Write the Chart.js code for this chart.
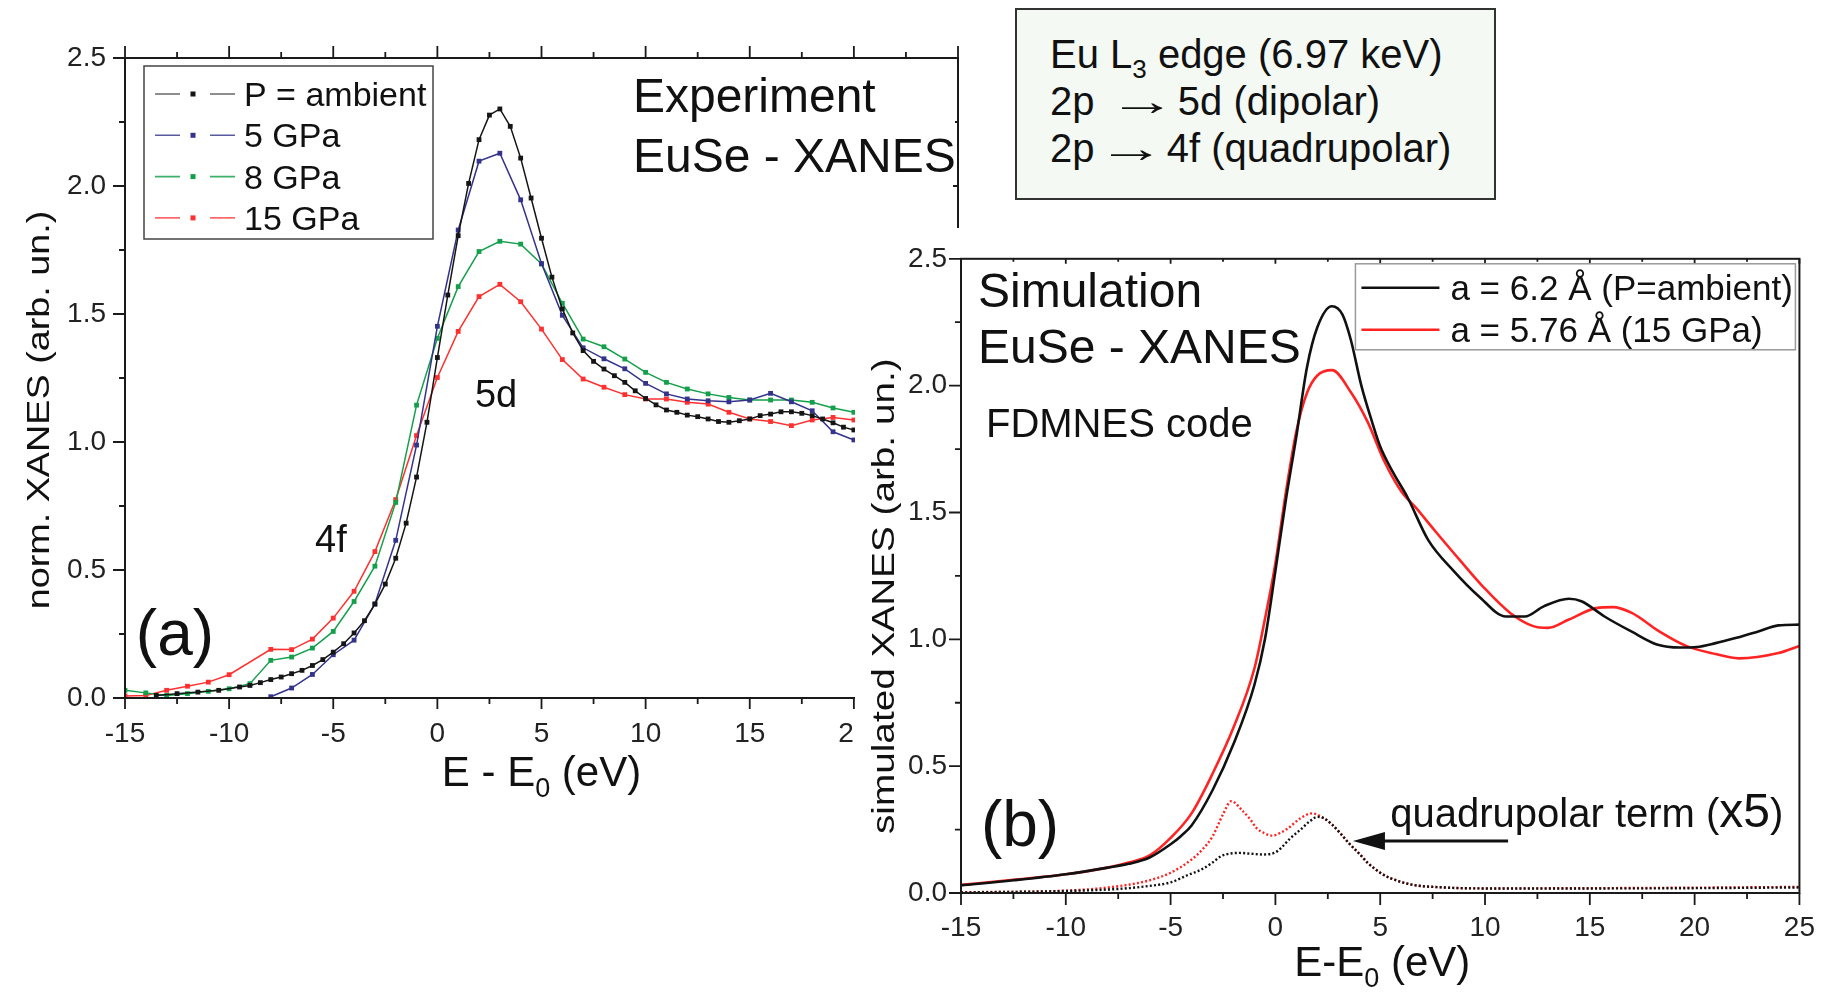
<!DOCTYPE html>
<html>
<head>
<meta charset="utf-8">
<title>EuSe XANES</title>
<script src="https://cdn.jsdelivr.net/npm/chart.js@4.4.1/dist/chart.umd.min.js"></script>
<style>
  html, body { margin: 0; padding: 0; background: #fff; }
  #stage { position: relative; width: 1833px; height: 993px; overflow: hidden;
           font-family: 'Liberation Sans', Arial, Helvetica, sans-serif; }
  #wrapA { position: absolute; left: 0; top: 0; width: 1000px; height: 800px; }
  #wrapB { position: absolute; left: 855px; top: 228px; width: 978px; height: 765px; }
  #info { position: absolute; left: 1015px; top: 8px; width: 481px; height: 192px;
          box-sizing: border-box; border: 2px solid #333; background: #f4f9f4;
          padding: 21px 0 0 33px; font-size: 40px; line-height: 47px; color: #111;
          white-space: pre; }
  #info sub { font-size: 26px; vertical-align: -10px; line-height: 0; }
  #info .arr { display: inline-block; width: 50px; text-align: center; transform: scaleX(1.7); }
</style>
</head>
<body>
<div id="stage">
  <div id="wrapA"><canvas id="chartA"></canvas></div>
  <div id="wrapB"><canvas id="chartB"></canvas></div>
  <div id="info">Eu L<sub>3</sub> edge (6.97 keV)
2p  <span class="arr">→</span> 5d (dipolar)
2p <span class="arr">→</span> 4f (quadrupolar)</div>
</div>
<script>
const FONT = "'Liberation Sans', Arial, Helvetica, sans-serif";

// ---- (a) measured spectra: energy (eV) and normalised absorption ----
const expAmbE = [-13.5,-12.5,-11.5,-10.5,-9.5,-9,-8.5,-8,-7.5,-7,-6.5,-6,-5.5,-5,-4.5,-4,-3.5,-3,-2.5,-2,-1.5,-1,-0.5,0,0.5,1,1.5,2,2.5,3,3.5,4,4.5,5,5.5,6,6.5,7,7.5,8,8.5,9,9.5,10,10.5,11,11.5,12,12.5,13,13.5,14,14.5,15,15.5,16,16.5,17,17.5,18,18.5,19,19.5,20];
const expAmb  = [0.010,0.017,0.023,0.030,0.043,0.049,0.060,0.072,0.082,0.095,0.108,0.127,0.150,0.179,0.212,0.254,0.302,0.367,0.445,0.546,0.683,0.863,1.077,1.330,1.574,1.806,2.010,2.181,2.277,2.301,2.233,2.109,1.953,1.796,1.644,1.520,1.426,1.357,1.315,1.285,1.259,1.233,1.200,1.170,1.145,1.125,1.116,1.105,1.099,1.090,1.080,1.077,1.083,1.090,1.103,1.109,1.118,1.118,1.112,1.103,1.090,1.075,1.058,1.047];

const exp5E = [-8,-7,-6,-5,-4,-3,-2,-1,0,1,2,3,4,5,6,7,8,9,10,11,12,13,14,15,16,17,18,19,20];
const exp5  = [0.005,0.039,0.092,0.169,0.226,0.367,0.616,0.988,1.452,1.828,2.097,2.128,1.946,1.697,1.495,1.368,1.325,1.286,1.229,1.188,1.168,1.161,1.157,1.164,1.190,1.157,1.122,1.040,1.008];

const exp8E = [-15,-14,-13,-12,-11,-10,-9,-8,-7,-6,-5,-4,-3,-2,-1,0,1,2,3,4,5,6,7,8,9,10,11,12,13,14,15,16,17,18,19,20];
const exp8  = [0.030,0.020,0.010,0.017,0.026,0.036,0.056,0.147,0.160,0.195,0.260,0.377,0.515,0.764,1.144,1.405,1.607,1.744,1.784,1.773,1.695,1.542,1.402,1.372,1.324,1.272,1.233,1.207,1.188,1.174,1.164,1.164,1.164,1.155,1.133,1.116];

const exp15E = [-15,-14,-13,-12,-11,-10,-8,-7,-6,-5,-4,-3,-2,-1,0,1,2,3,4,5,6,7,8,9,10,11,12,13,14,15,16,17,18,19,20];
const exp15  = [0.008,0.010,0.030,0.046,0.062,0.091,0.190,0.189,0.230,0.312,0.417,0.572,0.775,1.025,1.252,1.432,1.568,1.616,1.548,1.441,1.322,1.246,1.214,1.185,1.168,1.168,1.155,1.148,1.116,1.090,1.080,1.064,1.086,1.096,1.086];

const expLabels = ['P = ambient', '5 GPa', '8 GPa', '15 GPa'];
const expColors = ['#151515', '#33338c', '#14a04b', '#ff3030'];
const expLegendLine = ['#6a6a6a', '#5a5aa0', '#3db06a', '#ff6a6a'];

// ---- (b) FDMNES simulations ----
const simAmbE = [-15,-12.5,-10,-8,-7,-6,-5,-4.5,-4,-3,-2,-1,-0.5,0,0.5,1,1.5,2,2.7,3.2,3.6,4.1,4.6,5.0,5.6,6.3,7.3,8.5,9.7,11,11.9,12.8,14,14.6,15.7,17,18.2,19.3,20.1,21,22,23,24,25];
const simAmb  = [0.030,0.050,0.074,0.100,0.115,0.140,0.192,0.225,0.266,0.405,0.587,0.821,1.00,1.27,1.55,1.80,2.07,2.23,2.313,2.28,2.18,2.00,1.86,1.76,1.66,1.56,1.39,1.27,1.17,1.09,1.09,1.13,1.16,1.15,1.09,1.03,0.98,0.968,0.970,0.985,1.006,1.03,1.055,1.058];

const sim15E = [-15,-12.5,-10,-8,-7,-6,-5,-4,-3,-2,-1,-0.5,0,0.5,1,1.5,2,2.7,3.6,4.4,5.2,6.0,6.7,7.6,8.8,9.9,11.2,12.3,13,14,15.3,16.1,17,18.3,19.6,21,22.1,24,25];
const sim15  = [0.032,0.052,0.074,0.100,0.120,0.148,0.217,0.314,0.470,0.652,0.886,1.08,1.30,1.58,1.82,1.97,2.04,2.061,1.974,1.857,1.701,1.584,1.519,1.429,1.312,1.208,1.104,1.052,1.045,1.078,1.123,1.127,1.104,1.032,0.974,0.942,0.925,0.946,0.974];

// quadrupolar contribution, scaled x5
const quadAmbE = [-15,-10,-7.5,-6,-5,-4.2,-3.5,-3,-2.6,-2.2,-1.7,-1.2,-0.6,0,0.3,0.7,1.2,1.6,2.0,2.3,2.7,3.1,3.5,4.0,4.4,5.0,5.5,6.5,8,10,15,20,25];
const quadAmb  = [0.002,0.008,0.016,0.028,0.042,0.07,0.094,0.12,0.145,0.155,0.158,0.155,0.152,0.16,0.18,0.215,0.25,0.28,0.30,0.295,0.27,0.235,0.197,0.155,0.119,0.08,0.058,0.033,0.022,0.018,0.018,0.019,0.022];

const quad15E = [-15,-10,-7.3,-6,-5,-4,-3.5,-3,-2.5,-2.1,-1.6,-1.2,-0.9,-0.5,-0.15,0.3,0.6,1.2,1.75,2.3,2.7,3.1,3.5,4.0,4.4,5.0,5.5,6.5,8,10,15,20,25];
const quad15  = [0.003,0.009,0.029,0.05,0.08,0.132,0.17,0.223,0.31,0.362,0.327,0.29,0.256,0.235,0.226,0.24,0.255,0.295,0.314,0.295,0.27,0.235,0.197,0.155,0.119,0.08,0.058,0.033,0.022,0.018,0.019,0.021,0.024];

const simLabels = ['a = 6.2 Å (P=ambient)', 'a = 5.76 Å (15 GPa)'];
const simColors = ['#111111', '#ff2424'];

// axis ranges shared by both panels
const X_MIN = -15, X_MAX = 25, X_STEP = 5, X_MINOR = 2.5;
const Y_MIN = 0, Y_MAX = 2.5, Y_STEP = 0.5, Y_MINOR = 0.25;

Chart.defaults.font.family = FONT;
Chart.defaults.color = '#1a1a1a';

function pts(xs, ys) { return xs.map((x, i) => ({ x: x, y: ys[i] })); }

function isMajor(v, step) { return Math.abs(v / step - Math.round(v / step)) < 1e-6; }

// frame with tick marks; signed lengths: positive = outward
function drawFrame(chart, t) {
  const { ctx, chartArea: a, scales } = chart;
  const sx = scales.x, sy = scales.y;
  ctx.save();
  ctx.strokeStyle = '#1a1a1a';
  ctx.lineWidth = 2;
  ctx.strokeRect(a.left, a.top, a.right - a.left, a.bottom - a.top);
  ctx.lineWidth = 1.8;
  ctx.beginPath();
  for (let v = X_MIN; v <= X_MAX + 1e-9; v += X_MINOR) {
    const px = sx.getPixelForValue(v);
    const m = isMajor(v, X_STEP);
    const b = m ? t.bottom[0] : t.bottom[1];
    const tp = m ? t.top[0] : t.top[1];
    if (b) { ctx.moveTo(px, a.bottom); ctx.lineTo(px, a.bottom + b); }
    if (tp) { ctx.moveTo(px, a.top); ctx.lineTo(px, a.top - tp); }
  }
  for (let v = Y_MIN; v <= Y_MAX + 1e-9; v += Y_MINOR) {
    const py = sy.getPixelForValue(v);
    const m = isMajor(v, Y_STEP);
    const l = m ? t.left[0] : t.left[1];
    const r = m ? t.right[0] : t.right[1];
    if (l) { ctx.moveTo(a.left, py); ctx.lineTo(a.left - l, py); }
    if (r) { ctx.moveTo(a.right, py); ctx.lineTo(a.right + r, py); }
  }
  ctx.stroke();
  ctx.restore();
}

// text built from runs of [string, size, baseline shift]
function runs(ctx, parts, x, baseline, align) {
  let w = 0;
  parts.forEach(p => { ctx.font = p[1] + 'px ' + FONT; w += ctx.measureText(p[0]).width; });
  let cx = align === 'center' ? x - w / 2 : (align === 'right' ? x - w : x);
  ctx.textAlign = 'left';
  ctx.textBaseline = 'alphabetic';
  parts.forEach(p => {
    ctx.font = p[1] + 'px ' + FONT;
    ctx.fillText(p[0], cx, baseline + (p[2] || 0));
    cx += ctx.measureText(p[0]).width;
  });
}

function label(chart, text, ex, val, size, align, shift) {
  const { ctx, scales } = chart;
  const x = scales.x.getPixelForValue(ex);
  const y = scales.y.getPixelForValue(val);
  runs(ctx, typeof text === 'string' ? [[text, size, 0]] : text, x, y + (shift !== undefined ? shift : size * 0.36), align);
}

// rotated axis title, drawn in a tall narrow face (stretched along its length)
function yTitle(chart, text, dx, val, size, stretch) {
  const { ctx, chartArea: a, scales } = chart;
  ctx.save();
  ctx.translate(a.left - dx, scales.y.getPixelForValue(val));
  ctx.rotate(-Math.PI / 2);
  ctx.scale(stretch, 1);
  ctx.font = size + 'px ' + FONT;
  ctx.textAlign = 'center';
  ctx.textBaseline = 'alphabetic';
  ctx.fillStyle = '#111';
  ctx.fillText(text, 0, 0);
  ctx.restore();
}

const panelA = {
  id: 'panelA',
  afterDraw(chart) {
    const { ctx, chartArea: a, scales } = chart;
    drawFrame(chart, { bottom: [11, 6], top: [12, 6], left: [12, 6], right: [-5, -3] });
    ctx.save();
    ctx.fillStyle = '#111';
    // axis titles
    runs(ctx, [['E - E', 42, 0], ['0', 27, 11], [' (eV)', 42, 0]],
         scales.x.getPixelForValue(5), a.bottom + 88, 'center');
    yTitle(chart, 'norm. XANES (arb. un.)', 76, 1.125, 32, 1.18);
    // panel texts
    label(chart, 'Experiment', 9.39, 2.355, 48, 'left');
    label(chart, 'EuSe - XANES', 9.39, 2.121, 48, 'left');
    label(chart, '5d', 2.82, 1.191, 38, 'center');
    label(chart, '4f', -5.11, 0.625, 38, 'center');
    label(chart, '(a)', -12.6, 0.234, 64, 'center', 17);
    // legend
    const bx = a.left + 19, by = a.top + 8, bw = 289, bh = 173;
    ctx.strokeStyle = '#444';
    ctx.lineWidth = 1.5;
    ctx.strokeRect(bx, by, bw, bh);
    chart.data.datasets.forEach((ds, i) => {
      const cy = by + 28 + i * 41.3;
      ctx.strokeStyle = expLegendLine[i];
      ctx.lineWidth = 1.6;
      ctx.beginPath();
      ctx.moveTo(bx + 11, cy); ctx.lineTo(bx + 36, cy);
      ctx.moveTo(bx + 66, cy); ctx.lineTo(bx + 91, cy);
      ctx.stroke();
      ctx.fillStyle = ds.pointBackgroundColor;
      ctx.fillRect(bx + 49 - 2.5, cy - 2.5, 5, 5);
      ctx.fillStyle = '#111';
      runs(ctx, [[ds.label, 34, 0]], bx + 100, cy + 12, 'left');
    });
    ctx.restore();
  }
};

const panelB = {
  id: 'panelB',
  beforeDraw(chart) {
    const ctx = chart.ctx;
    ctx.save();
    ctx.fillStyle = '#ffffff';
    ctx.fillRect(0, 0, chart.width, chart.height);
    ctx.restore();
  },
  afterDraw(chart) {
    const { ctx, chartArea: a, scales } = chart;
    drawFrame(chart, { bottom: [12, 6], top: [-5, -3], left: [12, 6], right: [0, 0] });
    ctx.save();
    ctx.fillStyle = '#111';
    runs(ctx, [['E-E', 42, 0], ['0', 27, 11], [' (eV)', 42, 0]],
         scales.x.getPixelForValue(5.1), a.bottom + 83, 'center');
    yTitle(chart, 'simulated XANES (arb. un.)', 67, 1.17, 32, 1.21);
    label(chart, 'Simulation', -14.19, 2.379, 48, 'left');
    label(chart, 'EuSe - XANES', -14.19, 2.157, 48, 'left');
    label(chart, 'FDMNES code', -13.81, 1.855, 40, 'left');
    label(chart, '(b)', -14.05, 0.253, 64, 'left', 17);
    label(chart, [['quadrupolar term (', 40, 0], ['x5', 48, 0], [')', 40, 0]], 5.48, 0.31, 40, 'left', 13);
    // arrow pointing at the quadrupolar curves
    const tipX = scales.x.getPixelForValue(3.7), tailX = scales.x.getPixelForValue(11.1);
    const ay = scales.y.getPixelForValue(0.205);
    ctx.strokeStyle = '#111';
    ctx.lineWidth = 3;
    ctx.beginPath();
    ctx.moveTo(tailX, ay); ctx.lineTo(tipX + 28, ay);
    ctx.stroke();
    ctx.beginPath();
    ctx.moveTo(tipX, ay);
    ctx.lineTo(tipX + 32, ay - 9);
    ctx.lineTo(tipX + 32, ay + 9);
    ctx.closePath();
    ctx.fill();
    // legend
    const bw = 440, bh = 86, bx = a.right - 4 - bw, by = a.top + 5;
    ctx.strokeStyle = '#9a9a9a';
    ctx.lineWidth = 1.5;
    ctx.strokeRect(bx, by, bw, bh);
    simLabels.forEach((t, i) => {
      const cy = by + 24 + i * 42;
      ctx.strokeStyle = simColors[i];
      ctx.lineWidth = 2.5;
      ctx.beginPath();
      ctx.moveTo(bx + 6, cy); ctx.lineTo(bx + 84, cy);
      ctx.stroke();
      ctx.fillStyle = '#111';
      runs(ctx, [[t, 35, 0]], bx + 95, cy + 12.5, 'left');
    });
    ctx.restore();
  }
};

function axes(xHeight, yWidth, xPad, yPad) {
  return {
    x: {
      type: 'linear', min: X_MIN, max: X_MAX,
      ticks: { stepSize: X_STEP, padding: xPad, color: '#222', font: { size: 28 }, maxRotation: 0, autoSkip: false },
      grid: { display: false, drawTicks: false },
      border: { display: false },
      afterFit(s) { s.height = xHeight; }
    },
    y: {
      type: 'linear', min: Y_MIN, max: Y_MAX,
      ticks: { stepSize: Y_STEP, padding: yPad, color: '#222', font: { size: 28 }, autoSkip: false,
               callback: v => Number(v).toFixed(1) },
      grid: { display: false, drawTicks: false },
      border: { display: false },
      afterFit(s) { s.width = yWidth; }
    }
  };
}

function expSet(i, xs, ys) {
  return {
    label: expLabels[i], data: pts(xs, ys), showLine: true,
    borderColor: expColors[i], borderWidth: 1.5, tension: 0,
    pointStyle: 'rect', pointRadius: 3.4, pointBorderWidth: 0,
    pointBackgroundColor: expColors[i], pointHoverRadius: 3.4
  };
}

new Chart(document.getElementById('chartA'), {
  type: 'scatter',
  data: {
    datasets: [
      expSet(0, expAmbE, expAmb),
      expSet(1, exp5E, exp5),
      expSet(2, exp8E, exp8),
      expSet(3, exp15E, exp15)
    ]
  },
  options: {
    responsive: true, maintainAspectRatio: false, animation: false,
    layout: { padding: { left: 0, top: 58, right: 42, bottom: 0 } },
    plugins: { legend: { display: false }, tooltip: { enabled: false } },
    scales: axes(102, 125, 19, 19)
  },
  plugins: [panelA]
});

function simSet(label, xs, ys, color, dotted) {
  return {
    label: label, data: pts(xs, ys), showLine: true,
    borderColor: color, borderWidth: dotted ? 2.4 : 2.6,
    borderDash: dotted ? [2, 2.2] : [],
    cubicInterpolationMode: 'monotone',
    pointRadius: 0, pointHoverRadius: 0
  };
}

new Chart(document.getElementById('chartB'), {
  type: 'scatter',
  data: {
    datasets: [
      simSet(simLabels[0], simAmbE, simAmb, simColors[0], false),
      simSet(simLabels[1], sim15E, sim15, simColors[1], false),
      simSet('quadrupolar ' + simLabels[0], quadAmbE, quadAmb, simColors[0], true),
      simSet('quadrupolar ' + simLabels[1], quad15E, quad15, simColors[1], true)
    ]
  },
  options: {
    responsive: true, maintainAspectRatio: false, animation: false,
    layout: { padding: { left: 0, top: 23, right: 32, bottom: 0 } },
    plugins: { legend: { display: false }, tooltip: { enabled: false } },
    scales: axes(100, 106, 18, 14)
  },
  plugins: [panelB]
});
</script>
</body>
</html>
